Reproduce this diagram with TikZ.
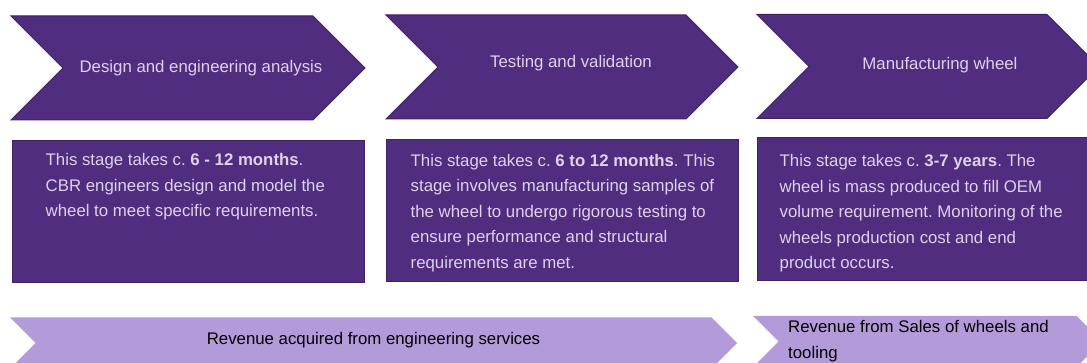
\documentclass[tikz,border=0pt]{standalone}
\usepackage{fontspec}
\setmainfont{Liberation Sans}
\usepackage{tikz}
\usetikzlibrary{positioning,shapes.symbols}
\frenchspacing
\definecolor{stagefill}{RGB}{80,45,126}
\definecolor{stageline}{RGB}{62,34,104}
\definecolor{stagetext}{RGB}{221,210,233}
\definecolor{revfill}{RGB}{179,155,218}
\tikzset{
stage/.style={
  signal, 
  signal from=west, 
  signal to=east,
  signal pointer angle=90,
  fill=stagefill, 
  draw=stageline, 
  line width=1pt,
  minimum height=104pt,
  inner sep=0pt
  },
caption/.style={
  text=stagetext, 
  inner sep=0pt,
  font=\fontsize{16.8}{25.5}\selectfont
  },
infobox/.style={
  rectangle, 
  fill=stagefill, 
  draw=stageline, 
  line width=1pt,
  minimum height=142pt,
  inner sep=0pt
  },
infotext/.style={
  caption, 
  align=left
  },
revenue/.style={
  signal, 
  signal from=west, 
  signal to=east,
  signal pointer angle=90,
  fill=revfill,
  minimum height=51pt,
  inner sep=0pt
  },
revtext/.style={
  text=black, 
  align=left,
  inner sep=0pt,
  font=\fontsize{16.8}{25.5}\selectfont
  }
}

\begin{document}
\begin{tikzpicture}[x=1pt,y=-1pt]
\useasboundingbox (0,0) rectangle (1087,363);
% stages
\node[stage, minimum width=354pt](s1) at (188,68){};
\node[stage, minimum width=352pt](s2) at (562,67){};
\node[stage, minimum width=342pt](s3) at (928,66.5){};
\node[caption](c1) at ([xshift=13pt]s1.center){Design and engineering analysis};
\node[caption](c2) at ([xshift=9pt,yshift=4pt]s2.center){Testing and validation};
\node[caption](c3) at ([xshift=12pt,yshift=1pt]s3.center){Manufacturing wheel};
% details
\node[infobox, minimum width=352pt](b1) at (188,212){};
\node[infobox, minimum width=352pt](b2) at (562,210.5){};
\node[infobox, minimum width=344pt, minimum height=143pt](b3) at (929,209.5){};
\node[infotext, below right=13pt and 34pt of b1.north west](t1){This stage takes c. \textbf{6 - 12 months}.\\
CBR engineers design and model the\\
wheel to meet specific requirements.};
\node[infotext, below right=15pt and 25pt of b2.north west](t2){This stage takes c. \textbf{6 to 12 months}. This\\
stage involves manufacturing samples of\\
the wheel to undergo rigorous testing to\\
ensure performance and structural\\
requirements are met.};
\node[infotext, below right=17pt and 23pt of b3.north west](t3){This stage takes c. \textbf{3-7 years}. The\\
wheel is mass produced to fill OEM\\
volume requirement. Monitoring of the\\
wheels production cost and end\\
product occurs.};
% revenue
\node[revenue, minimum width=727pt](r1) at (373.5,343){};
\node[revenue, minimum width=349pt](r2) at (927.5,341.5){};
\node[revtext](rt1) at ([yshift=3pt]r1.center){Revenue acquired from engineering services};
\node[revtext, anchor=west](rt2) at (788,341){Revenue from Sales of wheels and\\tooling};
\end{tikzpicture}
\end{document}
